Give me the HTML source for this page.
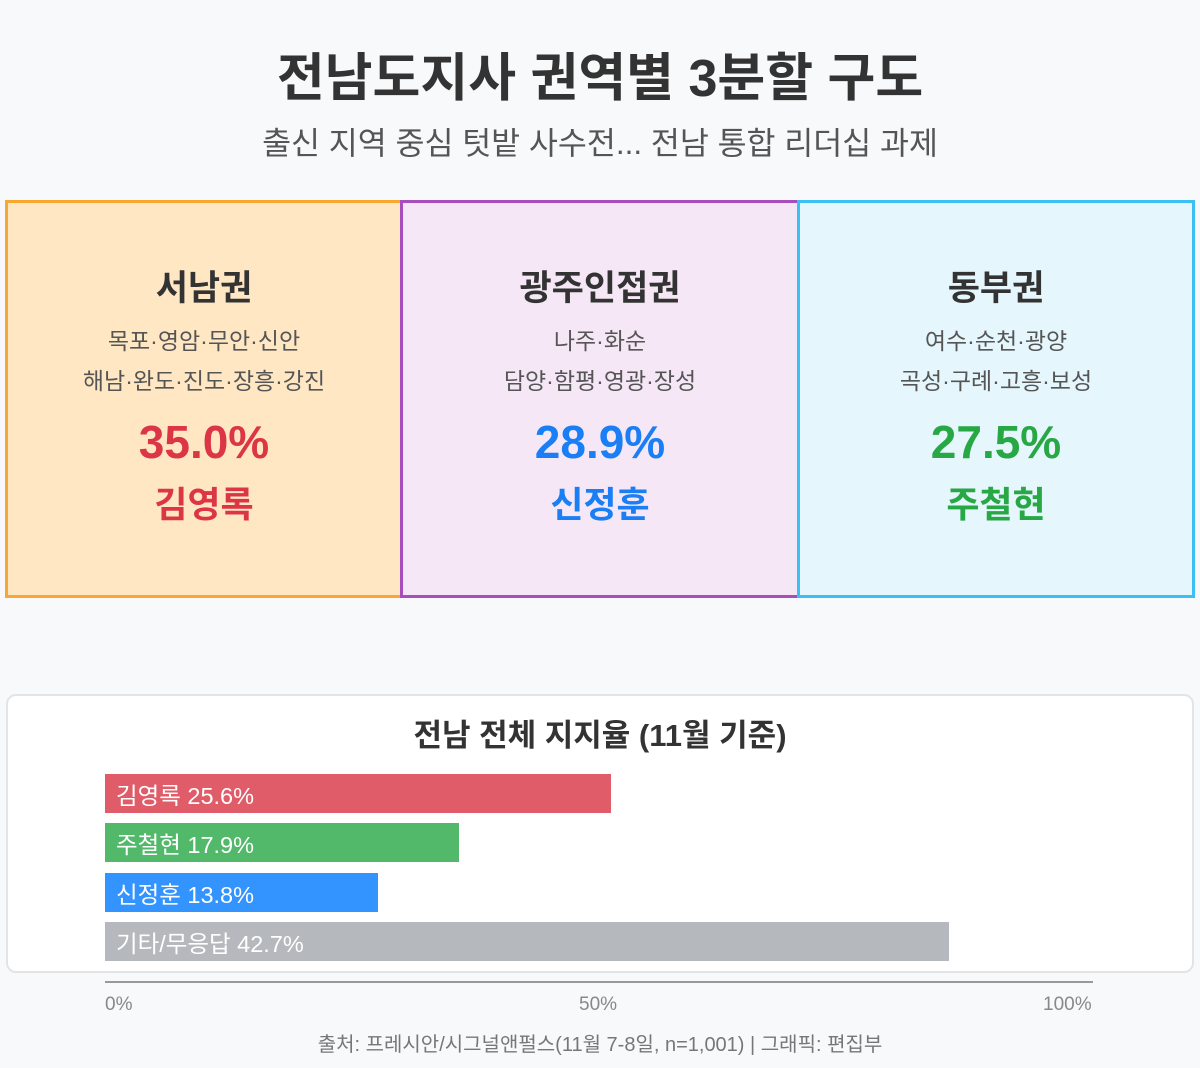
<!DOCTYPE html>
<html><head><meta charset="utf-8"><style>
*{margin:0;padding:0;box-sizing:border-box}
body{width:1200px;height:1068px;background:#f8f9fa;font-family:"Liberation Sans","Noto Sans CJK KR",sans-serif;position:relative;overflow:hidden}
.a{position:absolute}
.c{text-align:center}
.box{position:absolute;top:200px;height:398px;border:3px solid}
.box div{position:absolute;left:0;right:0;text-align:center;white-space:nowrap}
.rn{top:57px;font-size:35px;font-weight:bold;color:#333}
.l1{top:119px;font-size:23px;color:#555}
.l2{top:159px;font-size:23px;color:#555}
.p{top:212px;font-size:46px;font-weight:bold}
.n{top:273px;font-size:36px;font-weight:bold}
.bar{position:absolute;left:105px;height:39px;color:#fff;font-size:23.5px;line-height:44px;padding-left:11px;white-space:nowrap}
</style></head><body>
<div class="a c" style="left:0;right:0;top:36px;font-size:52px;font-weight:bold;color:#333">전남도지사 권역별 3분할 구도</div>
<div class="a c" style="left:0;right:0;top:118px;font-size:31.5px;color:#555">출신 지역 중심 텃밭 사수전... 전남 통합 리더십 과제</div>

<div class="box" style="left:5px;width:398px;background:#ffe7c4;border-color:#f8a832">
<div class="rn">서남권</div><div class="l1">목포·영암·무안·신안</div><div class="l2">해남·완도·진도·장흥·강진</div>
<div class="p" style="color:#dc3545">35.0%</div><div class="n" style="color:#dc3545">김영록</div></div>
<div class="box" style="left:400px;width:400px;background:#f5e7f6;border-color:#a94cbd">
<div class="rn">광주인접권</div><div class="l1">나주·화순</div><div class="l2">담양·함평·영광·장성</div>
<div class="p" style="color:#1a7ef5">28.9%</div><div class="n" style="color:#1a7ef5">신정훈</div></div>
<div class="box" style="left:797px;width:398px;background:#e5f6fd;border-color:#3cbff2">
<div class="rn">동부권</div><div class="l1">여수·순천·광양</div><div class="l2">곡성·구례·고흥·보성</div>
<div class="p" style="color:#28a745">27.5%</div><div class="n" style="color:#28a745">주철현</div></div>

<div class="a" style="left:6px;top:694px;width:1188px;height:279px;background:#fff;border:2px solid #e2e4e6;border-radius:10px"></div>
<div class="a c" style="left:0;right:0;top:710px;font-size:31px;font-weight:bold;color:#333">전남 전체 지지율 (11월 기준)</div>
<div class="bar" style="top:774px;width:506px;background:#e05c69">김영록 25.6%</div>
<div class="bar" style="top:823px;width:354px;background:#52b96a">주철현 17.9%</div>
<div class="bar" style="top:873px;width:273px;background:#3393ff">신정훈 13.8%</div>
<div class="bar" style="top:922px;width:844px;background:#b5b9bd">기타/무응답 42.7%</div>
<div class="a" style="left:105px;top:981px;width:988px;height:2px;background:#999"></div>
<div class="a" style="left:105px;top:994px;font-size:19px;color:#888">0%</div>
<div class="a" style="left:579px;top:994px;font-size:19px;color:#888">50%</div>
<div class="a" style="left:1043px;top:994px;font-size:19px;color:#888">100%</div>
<div class="a c" style="left:0;right:0;top:1028px;font-size:20px;color:#777">출처: 프레시안/시그널앤펄스(11월 7-8일, n=1,001) | 그래픽: 편집부</div>
</body></html>
